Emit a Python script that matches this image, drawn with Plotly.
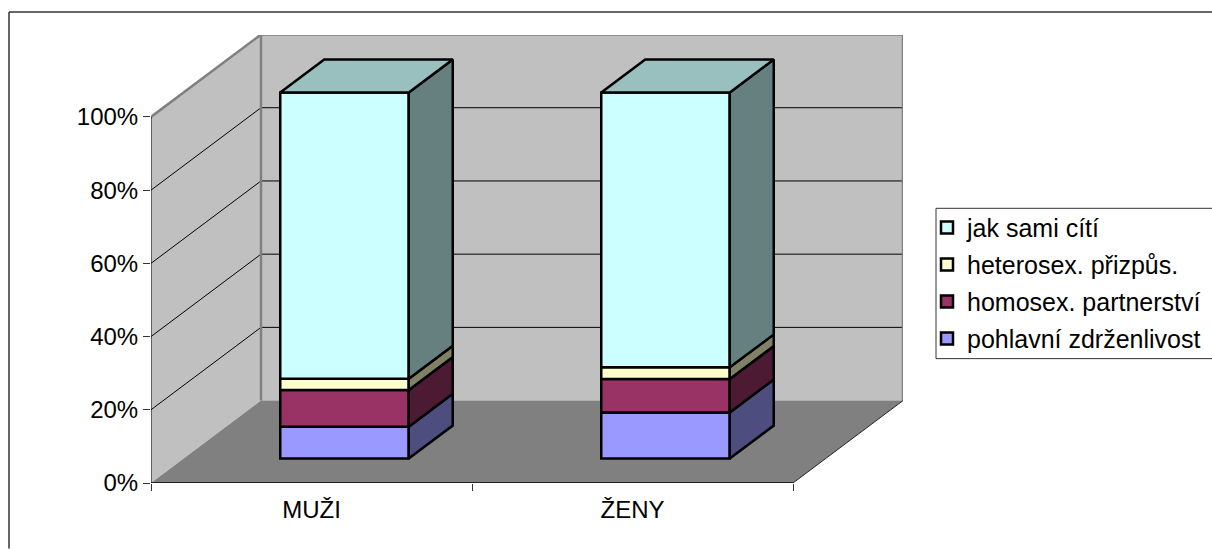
import plotly.graph_objects as go

CATEGORIES = ["MUŽI", "ŽENY"]
POHLAVNI = [8.7, 12.6]
HOMOSEX = [10.0, 9.1]
HETERO = [3.1, 3.2]
JAK_SAMI = [78.2, 75.1]
SERIES_NAMES = ["pohlavní zdrženlivost", "homosex. partnerství", "heterosex. přizpůs.", "jak sami cítí"]
FRONT_COLORS = ["#9999FF", "#993366", "#FFFFCC", "#CCFFFF"]
SIDE_COLORS = ["#4D4D80", "#4D1A33", "#808066", "#668080"]
TOP_COLOR = "#99BFBF"
Y_TICKS = [0, 20, 40, 60, 80, 100]

W, H = 1212, 549
L, T = 151, 35
PW, PH = 752, 448.5
UX = 321.0     # pixels per category
UY = 3.665     # pixels per percent
BAR_LINE = 2.5


def dx(px):
    return px / UX


def dy(px):
    return px / UY


XMAX = PW / UX
YMAX = PH / UY
WALL_DX, WALL_DY = dx(110), dy(82.5)
BAR_OFF_X, BAR_OFF_Y = dx(33), dy(24.5)
BAR_DX, BAR_DY = dx(44), dy(33)
BAR_W = dx(128.5)

all_series = [POHLAVNI, HOMOSEX, HETERO, JAK_SAMI]
fig = go.Figure()

bar_left = [i + 0.5 + BAR_OFF_X - BAR_W / 2 for i in range(len(CATEGORIES))]
centres = [i + 0.5 + BAR_OFF_X for i in range(len(CATEGORIES))]
cum = [BAR_OFF_Y for _ in CATEGORIES]
for k, (name, vals, fc) in enumerate(zip(SERIES_NAMES, all_series, FRONT_COLORS)):
    fig.add_trace(go.Bar(
        x=centres, y=vals, base=list(cum), width=BAR_W, name=name, legendgroup=name,
        legendrank=1000 - k,
        marker=dict(color=fc, line=dict(color="black", width=BAR_LINE)), hoverinfo="skip",
    ))
    cum = [c + v for c, v in zip(cum, vals)]

cum = [BAR_OFF_Y for _ in CATEGORIES]
for vals, sc in zip(all_series, SIDE_COLORS):
    for i, v in enumerate(vals):
        xr = bar_left[i] + BAR_W
        y0, y1 = cum[i], cum[i] + v
        fig.add_trace(go.Scatter(
            x=[xr, xr + BAR_DX, xr + BAR_DX, xr, xr],
            y=[y0, y0 + BAR_DY, y1 + BAR_DY, y1, y0],
            mode="lines", fill="toself", fillcolor=sc,
            line=dict(color="black", width=BAR_LINE), showlegend=False, hoverinfo="skip",
        ))
    cum = [c + v for c, v in zip(cum, vals)]

for i, top in enumerate(cum):
    xl, xr = bar_left[i], bar_left[i] + BAR_W
    fig.add_trace(go.Scatter(
        x=[xl, xr, xr + BAR_DX, xl + BAR_DX, xl],
        y=[top, top, top + BAR_DY, top + BAR_DY, top],
        mode="lines", fill="toself", fillcolor=TOP_COLOR,
        line=dict(color="black", width=BAR_LINE), showlegend=False, hoverinfo="skip",
    ))


def poly(pts):
    return "M" + " L".join(f"{x},{y}" for x, y in pts) + " Z"


shapes = []
WALL = "#C0C0C0"
FLOOR = "#808080"
EDGE = dict(color="#808080", width=2.5)
BK_X = WALL_DX
BK_Y = WALL_DY
WALL_TOP = 100

shapes.append(dict(type="path", path=poly([(0, 0), (BK_X, BK_Y), (BK_X, WALL_TOP + BK_Y), (0, WALL_TOP)]),
                   fillcolor=WALL, line=dict(width=0), layer="below"))
shapes.append(dict(type="rect", x0=BK_X, x1=XMAX, y0=BK_Y, y1=WALL_TOP + BK_Y,
                   fillcolor=WALL, line=dict(width=0), layer="below"))
shapes.append(dict(type="path", path=poly([(0, 0), (2, 0), (XMAX, BK_Y), (BK_X, BK_Y)]),
                   fillcolor=FLOOR, line=dict(width=0), layer="below"))
for v in Y_TICKS[1:-1] + [100]:
    shapes.append(dict(type="line", x0=0, y0=v, x1=BK_X, y1=v + BK_Y, line=dict(color="black", width=1), layer="below"))
    if v < 100:
        shapes.append(dict(type="line", x0=BK_X, y0=v + BK_Y, x1=XMAX, y1=v + BK_Y, line=dict(color="black", width=1), layer="below"))
shapes.append(dict(type="line", x0=BK_X, x1=BK_X, y0=BK_Y, y1=WALL_TOP + BK_Y, line=EDGE, layer="below"))
shapes.append(dict(type="line", x0=BK_X, x1=XMAX, y0=WALL_TOP + BK_Y, y1=WALL_TOP + BK_Y, line=EDGE, layer="below"))
shapes.append(dict(type="line", x0=XMAX, x1=XMAX, y0=BK_Y, y1=WALL_TOP + BK_Y, line=EDGE, layer="below"))
shapes.append(dict(type="line", x0=0, x1=BK_X, y0=WALL_TOP, y1=WALL_TOP + BK_Y, line=EDGE, layer="below"))
shapes.append(dict(type="line", x0=0, x1=0, y0=0, y1=WALL_TOP, line=dict(color="black", width=1), layer="below"))
shapes.append(dict(type="line", x0=0, x1=2, y0=0, y1=0, line=dict(color="black", width=1.5), layer="below"))
shapes.append(dict(type="line", x0=2, x1=XMAX, y0=0, y1=BK_Y, line=dict(color="#222222", width=1), layer="below"))


def px_x(p):
    return (p - L) / PW


def px_y(p):
    return 1 - (p - T) / PH


FRAME = dict(color="#333333", width=1.5)
shapes.append(dict(type="line", xref="paper", yref="paper", x0=px_x(9), x1=px_x(9), y0=px_y(12), y1=px_y(H), line=FRAME))
shapes.append(dict(type="line", xref="paper", yref="paper", x0=px_x(9), x1=px_x(W), y0=px_y(12), y1=px_y(12), line=FRAME))
shapes.append(dict(type="rect", xref="paper", yref="paper", x0=px_x(936), x1=px_x(W + 5), y0=px_y(208.5), y1=px_y(359),
                   fillcolor="white", line=dict(color="#333333", width=1)))

fig.update_layout(
    width=W, height=H, autosize=False,
    margin=dict(l=L, t=T, r=W - L - PW, b=H - T - PH, pad=0, autoexpand=False),
    paper_bgcolor="white", plot_bgcolor="white",
    font=dict(family="Liberation Sans, Arial, sans-serif", color="black"),
    barmode="overlay", shapes=shapes, hovermode=False,
    xaxis=dict(range=[0, XMAX], tickmode="array", tickvals=[i + 0.5 for i in range(len(CATEGORIES))],
               ticktext=CATEGORIES, ticks="", showgrid=False, zeroline=False, showline=False,
               tickfont=dict(size=24), ticklabelstandoff=10, fixedrange=True,
               minor=dict(tickmode="array", tickvals=[0, 1, 2], ticks="outside", ticklen=7, tickwidth=1,
                          tickcolor="#333333", showgrid=False)),
    yaxis=dict(range=[0, YMAX], tickmode="array", tickvals=Y_TICKS, ticktext=[f"{v}%" for v in Y_TICKS],
               ticks="outside", ticklen=7, tickwidth=1, tickcolor="#333333", showgrid=False, zeroline=False,
               showline=False, tickfont=dict(size=24), fixedrange=True),
    legend=dict(x=px_x(927), y=px_y(205), xanchor="left", yanchor="top", traceorder="grouped",
                bgcolor="rgba(0,0,0,0)", borderwidth=0, font=dict(size=25),
                entrywidth=238, entrywidthmode="pixels",
                tracegroupgap=1.5, itemclick=False, itemdoubleclick=False),
)

fig.write_html("out.html", config=dict(displayModeBar=False),
               post_script="document.body.style.margin='0';document.body.style.overflow='hidden';")
